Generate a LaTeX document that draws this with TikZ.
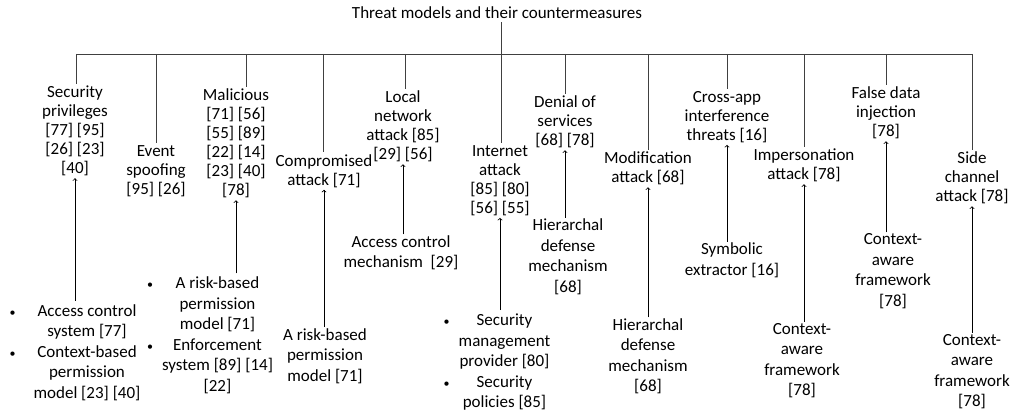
\documentclass[tikz,border=0pt]{standalone}
\usepackage{fontspec}
\setmainfont{Carlito}
\newcommand{\bul}{{\fontsize{12}{12}\selectfont\textbullet}}
\begin{document}
\begin{tikzpicture}
[x=1pt, y=-1pt, font=\fontsize{17}{19}\selectfont, >=to]
\tikzstyle{threat}=[align=center, inner sep=2pt]
\tikzstyle{counter}=[align=center, inner sep=1pt, font=\fontsize{17}{20.5}\selectfont]
\tikzstyle{tree}=[line width=0.8pt, black!75]
\tikzstyle{arr}=[->, line width=0.8pt]
\useasboundingbox (0,0) rectangle (1012,414);

% title and the bar under it
\node (T) at (497,13) {Threat models and their countermeasures};
\coordinate (b1)  at (76,54);
\coordinate (b2)  at (156,54);
\coordinate (b3)  at (246,54);
\coordinate (b4)  at (323,54);
\coordinate (b5)  at (405,54);
\coordinate (b6)  at (501,54);
\coordinate (b7)  at (565,54);
\coordinate (b8)  at (648,54);
\coordinate (b9)  at (727,54);
\coordinate (b10) at (804,54);
\coordinate (b11) at (886,54);
\coordinate (b12) at (972,54);

% threat models
\node[threat] (t1)  at (75,131)    {Security\\privileges\\{[77] [95]}\\{[26] [23]}\\{[40]}};
\node[threat] (t2)  at (156,171)   {Event\\spoofing\\{[95] [26]}};
\node[threat] (t3)  at (236,143.5) {Malicious\\{[71] [56]}\\{[55] [89]}\\{[22] [14]}\\{[23] [40]}\\{[78]}};
\node[threat] (t4)  at (324,171)   {Compromised\\attack [71]};
\node[threat] (t5)  at (403,126.5) {Local\\network\\attack [85]\\{[29] [56]}};
\node[threat] (t6)  at (500,180.5) {Internet\\attack\\{[85] [80]}\\{[56] [55]}};
\node[threat] (t7)  at (565,122)   {Denial of\\services\\{[68] [78]}};
\node[threat] (t8)  at (648,168.5) {Modification\\attack [68]};
\node[threat] (t9)  at (727,117)   {Cross-app\\interference\\threats [16]};
\node[threat] (t10) at (804,165.5) {Impersonation\\attack [78]};
\node[threat] (t11) at (886,113)   {False data\\injection\\{[78]}};
\node[threat] (t12) at (972,178)   {Side\\channel\\attack [78]};

% countermeasures
\node[counter] (m1)  at (75,353)    {\begin{tabular}{@{}c@{\hspace{18pt}}c@{}}\bul & Access control\\ & system [77]\\ \bul & Context-based\\ & permission\\ & model [23] [40]\end{tabular}};
\node[counter] (m3)  at (210,336)   {\begin{tabular}{@{}c@{\hspace{9pt}}c@{}}\bul & A risk-based\\ & permission\\ & model [71]\\ \bul & Enforcement\\ & system [89] [14]\\ & {[22]}\end{tabular}};
\node[counter] (m4)  at (325,356)   {A risk-based\\permission\\model [71]};
\node[counter] (m5)  at (401,253)   {Access control\\mechanism~~[29]};
\node[counter] (m6)  at (497,362.5) {\begin{tabular}{@{}c@{\hspace{9pt}}c@{}}\bul & Security\\ & management\\ & provider [80]\\ \bul & Security\\ & policies [85]\end{tabular}};
\node[counter] (m7)  at (568,257)   {Hierarchal\\defense\\mechanism\\{[68]}};
\node[counter] (m8)  at (648,356.5) {Hierarchal\\defense\\mechanism\\{[68]}};
\node[counter] (m9)  at (732,260.5) {Symbolic\\extractor [16]};
\node[counter] (m10) at (802,360.5) {Context-\\aware\\framework\\{[78]}};
\node[counter] (m11) at (893,271)   {Context-\\aware\\framework\\{[78]}};
\node[counter] (m12) at (972,371.5) {Context-\\aware\\framework\\{[78]}};

% tree lines
\draw[tree] (b6 |- T.south) -- (b6);
\draw[tree] (b1) -- (b12);
\draw[tree] (b1)  -- (b1 |- t1.north);
\draw[tree] (b2)  -- (b2 |- t2.north);
\draw[tree] (b3)  -- (b3 |- t3.north);
\draw[tree] (b4)  -- (b4 |- t4.north);
\draw[tree] (b5)  -- (b5 |- t5.north);
\draw[tree] (b6)  -- (b6 |- t6.north);
\draw[tree] (b7)  -- (b7 |- t7.north);
\draw[tree] (b8)  -- (b8 |- t8.north);
\draw[tree] (b9)  -- (b9 |- t9.north);
\draw[tree] (b10) -- (b10 |- t10.north);
\draw[tree] (b11) -- (b11 |- t11.north);
\draw[tree] (b12) -- (b12 |- t12.north);

% countermeasure arrows
\draw[arr] (t1.south |- m1.north)   -- (t1.south);
\draw[arr] (t3.south |- m3.north)   -- (t3.south);
\draw[arr] (t4.south |- m4.north)   -- (t4.south);
\draw[arr] (t5.south |- m5.north)   -- (t5.south);
\draw[arr] (t6.south |- m6.north)   -- (t6.south);
\draw[arr] (t7.south |- m7.north)   -- (t7.south);
\draw[arr] (t8.south |- m8.north)   -- (t8.south);
\draw[arr] (t9.south |- m9.north)   -- (t9.south);
\draw[arr] (t10.south |- m10.north) -- (t10.south);
\draw[arr] (t11.south |- m11.north) -- (t11.south);
\draw[arr] (t12.south |- m12.north) -- (t12.south);
\end{tikzpicture}
\end{document}
